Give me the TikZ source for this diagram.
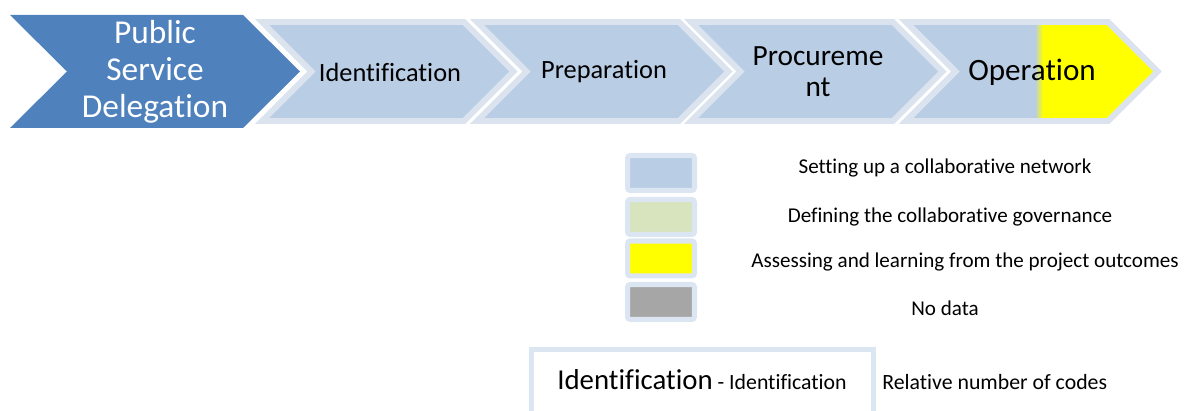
\documentclass[tikz,border=0pt]{standalone}
\usepackage{fontspec}
\setmainfont{Carlito}[Ligatures=NoCommon]
\usepackage{xcolor}
\usetikzlibrary{positioning,calc}

\definecolor{psdblue}{HTML}{4F81BD}
\definecolor{chevfill}{HTML}{B9CDE5}
\definecolor{chevline}{HTML}{DBE3EF}
\definecolor{keyline}{HTML}{DCE6F2}
\definecolor{govgreen}{HTML}{D7E4BD}
\definecolor{nodatagray}{HTML}{A6A6A6}
\definecolor{learnyellow}{HTML}{FFFF00}

\tikzset{
  chevron/.style={fill=chevfill, draw=chevline, line width=3.4pt, line join=miter},
  stagelabel/.style={align=center, text=black, inner sep=0pt},
  keybox/.style={draw=keyline, line width=2.85pt, rounded corners=1.5pt,
    minimum width=1.34cm, minimum height=0.7cm, inner sep=0pt},
  keytext/.style={font=\fontsize{12}{14}\selectfont, inner sep=0pt},
}

\begin{document}
\begin{tikzpicture}[x=0.02cm, y=-0.02cm]
    \useasboundingbox (0,0) rectangle (1187,411);

    % Stage chevrons
    \fill [psdblue] (10,15) -- (243,15) -- (300,71.5) -- (243,128) -- (10,128) -- (67,71.5) -- cycle;
    \foreach \x in {258,473,687,902}
        \draw [chevron] ({\x+4},22) -- ({\x+206},22) -- ({\x+255.5},71.5) -- ({\x+206},121) -- ({\x+4},121) -- ({\x+53.5},71.5) -- cycle;

    % Yellow part of Operation
    \begin{scope}
        \clip (906,22) -- (1108,22) -- (1157.5,71.5) -- (1108,121) -- (906,121) -- (955.5,71.5) -- cycle;
        \shade [left color=chevfill, right color=learnyellow] (1035,15) rectangle (1043,130);
        \fill [learnyellow] (1043,15) rectangle (1170,130);
    \end{scope}
    \draw [chevline, line width=3.4pt] (906,22) -- (1108,22) -- (1157.5,71.5) -- (1108,121) -- (906,121) -- (955.5,71.5) -- cycle;

    % Stage labels
    \node [stagelabel, text=white, font=\fontsize{19}{21}\selectfont] (psd) at (155,72) {Public\\Service\\Delegation};
    \node [stagelabel, font=\fontsize{15}{18}\selectfont] (ident) at (390,72) {Identification};
    \node [stagelabel, font=\fontsize{15}{18}\selectfont] (prep) at (604,72) {Preparation};
    \node [stagelabel, font=\fontsize{16.7}{17.8}\selectfont] (proc) at (818,72) {Procureme\\nt};
    \node [stagelabel, font=\fontsize{17.7}{21}\selectfont] (oper) at (1032,72) {Operation};

    % Legend
    \node [keybox, fill=chevfill] (netbox) at (661,173) {};
    \node [keybox, fill=govgreen] (govbox) at (661,217) {};
    \node [keybox, fill=learnyellow] (learnbox) at (661,258.5) {};
    \node [keybox, fill=nodatagray] (nodatabox) at (661,302) {};
    \node [keytext] (nettext) at (945,168) {Setting up a collaborative network};
    \node [keytext] (govtext) at (950,217) {Defining the collaborative governance};
    \node [keytext] (learntext) at (965,262) {Assessing and learning from the project outcomes};
    \node [keytext] (nodatatext) at (945,308) {No data};

    % Code count box
    \draw [keyline, line width=2.85pt] (531.5,420) -- (531.5,349.5) -- (873.5,349.5) -- (873.5,420);
    \node [anchor=base west, inner sep=0pt, font=\fontsize{12.4}{15}\selectfont] (codeitem) at (557,390)
        {{\fontsize{16.4}{20}\selectfont Identification} - Identification};
    \node [anchor=base west, inner sep=0pt, font=\fontsize{12.4}{15}\selectfont] (codecount) at (882,390) {Relative number of codes};
\end{tikzpicture}
\end{document}
